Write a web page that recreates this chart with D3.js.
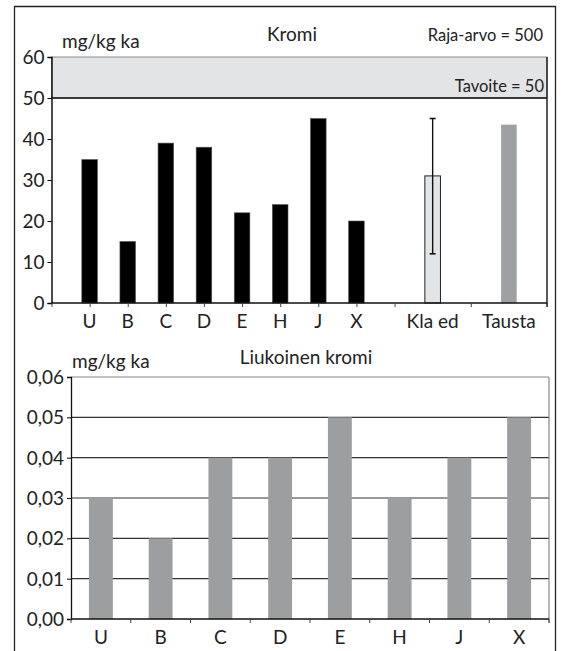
<!DOCTYPE html>
<html><head><meta charset="utf-8">
<script src="https://cdn.jsdelivr.net/npm/d3@7"></script>
<style>
body{margin:0;background:#fff;}
svg text{font-family:Lato,"Open Sans",sans-serif;fill:#222;}
</style></head>
<body><svg id="c" width="562" height="651"></svg>
<script>
// ---- data: top chart (Kromi)
const sites = ["U","B","C","D","E","H","J","X"];
const kromi = [35,15,39,38,22,24,45,20];
const extraCats = ["Kla ed","Tausta"];
const klaEd = 31, klaEdMin = 12, klaEdMax = 45;
const tausta = 43.5;
const topTicks = [0,10,20,30,40,50,60];
const tavoite = 50, topMax = 60;
// ---- data: bottom chart (Liukoinen kromi)
const liukoinen = [0.03,0.02,0.04,0.04,0.05,0.03,0.04,0.05];
const bottomTicks = [0,0.01,0.02,0.03,0.04,0.05,0.06];

const FS = 19, FT = 19, FS_SMALL = 16.5;
const svg = d3.select("#c");
// outer frame
svg.append("path").attr("d","M14.5,651 V6.5 H555.5 V651").attr("fill","none").attr("stroke","#222").attr("stroke-width",1.3);

// ===== top chart =====
const T = {l:51.5,r:547,t:57,b:303};
const slots = ["_0",...sites,"_9",extraCats[0],"_11",extraCats[1],"_13"];
const xT = d3.scalePoint().domain(slots).range([T.l,T.r]).padding(0);
const yT = d3.scaleLinear().domain([0,topMax]).range([T.b,T.t]);
const g1 = svg.append("g");
g1.append("rect").attr("x",T.l).attr("y",yT(topMax)).attr("width",T.r-T.l).attr("height",yT(tavoite)-yT(topMax)).attr("fill","#e3e4e6").attr("stroke","#8a8a8a").attr("stroke-width",1);
g1.append("line").attr("x1",T.l).attr("x2",T.r).attr("y1",yT(tavoite)).attr("y2",yT(tavoite)).attr("stroke","#111").attr("stroke-width",1.5);
g1.append("line").attr("x1",T.r).attr("x2",T.r).attr("y1",yT(topMax)).attr("y2",T.b+4).attr("stroke","#222").attr("stroke-width",1.5);
const bwT = 15.6;
g1.selectAll(".b").data(sites).enter().append("rect")
  .attr("x",d=>xT(d)-bwT/2).attr("width",bwT)
  .attr("y",(d,i)=>yT(kromi[i])).attr("height",(d,i)=>yT(0)-yT(kromi[i]))
  .attr("fill","#000").attr("stroke","#555").attr("stroke-width",0.6);
g1.append("rect").attr("x",xT(extraCats[0])-bwT/2).attr("width",bwT).attr("y",yT(klaEd)).attr("height",yT(0)-yT(klaEd))
  .attr("fill","#e3e4e6").attr("stroke","#222").attr("stroke-width",1);
g1.append("rect").attr("x",xT(extraCats[1])-bwT/2).attr("width",bwT).attr("y",yT(tausta)).attr("height",yT(0)-yT(tausta))
  .attr("fill","#9fa0a2");
const ex = xT(extraCats[0]);
g1.append("line").attr("x1",ex).attr("x2",ex).attr("y1",yT(klaEdMax)).attr("y2",yT(klaEdMin)).attr("stroke","#111").attr("stroke-width",1.4);
[klaEdMax,klaEdMin].forEach(v=>g1.append("line").attr("x1",ex-3).attr("x2",ex+3).attr("y1",yT(v)).attr("y2",yT(v)).attr("stroke","#111").attr("stroke-width",1.6));
const ay1 = g1.append("g").attr("transform",`translate(${T.l},0)`).call(d3.axisLeft(yT).tickValues(topTicks).tickSize(4).tickPadding(3).tickFormat(d3.format("d")));
ay1.select(".domain").attr("stroke","#111").attr("stroke-width",1.5);
ay1.selectAll("text").attr("font-size",FT).attr("dy","0.35em").attr("font-family","Lato");
const tickSlots = slots.filter(s=>!extraCats.includes(s));
const ax1 = g1.append("g").attr("transform",`translate(0,${T.b})`).call(d3.axisBottom(xT).tickValues(tickSlots).tickSize(4).tickFormat(""));
ax1.select(".domain").attr("stroke","#111").attr("stroke-width",1.5).attr("d",`M${T.l},0H${T.r}`);
ax1.selectAll(".tick line").attr("stroke","#444");
g1.selectAll(".xl").data([...sites,...extraCats]).enter().append("text")
  .attr("x",d=>xT(d)).attr("y",T.b+25).attr("text-anchor","middle").attr("font-size",FS).text(d=>d);
g1.append("text").attr("x",62).attr("y",48).attr("font-size",FS).text("mg/kg ka");
g1.append("text").attr("x",292).attr("y",41).attr("text-anchor","middle").attr("font-size",FS).text("Kromi");
g1.append("text").attr("x",543).attr("y",41).attr("text-anchor","end").attr("font-size",FS_SMALL).text("Raja-arvo = 500");
g1.append("text").attr("x",544).attr("y",92).attr("text-anchor","end").attr("font-size",FS_SMALL).text("Tavoite = 50");

// ===== bottom chart =====
const B = {l:71,r:549,t:377,b:619};
const xB = d3.scaleBand().domain(sites).range([B.l,B.r]).paddingInner(0.6).paddingOuter(0.3);
const yB = d3.scaleLinear().domain([0,0.06]).range([B.b,B.t]);
const g2 = svg.append("g");
g2.selectAll(".gl").data(bottomTicks.slice(1,-1)).enter().append("line")
  .attr("x1",B.l).attr("x2",B.r).attr("y1",d=>yB(d)).attr("y2",d=>yB(d)).attr("stroke","#333").attr("stroke-width",1.1);
g2.append("line").attr("x1",B.l).attr("x2",B.r).attr("y1",B.t).attr("y2",B.t).attr("stroke","#888").attr("stroke-width",1.2);
g2.append("line").attr("x1",B.r).attr("x2",B.r).attr("y1",B.t).attr("y2",B.b+4).attr("stroke","#888").attr("stroke-width",1.2);
g2.selectAll(".bb").data(sites).enter().append("rect")
  .attr("x",d=>xB(d)).attr("width",xB.bandwidth())
  .attr("y",(d,i)=>yB(liukoinen[i])).attr("height",(d,i)=>yB(0)-yB(liukoinen[i]))
  .attr("fill","#9d9ea0");
const ay2 = g2.append("g").attr("transform",`translate(${B.l},0)`).call(d3.axisLeft(yB).tickValues(bottomTicks).tickSize(4).tickPadding(3).tickFormat(d=>d3.format(".2f")(d).replace(".",",")));
ay2.select(".domain").attr("stroke","#111").attr("stroke-width",1.3);
ay2.selectAll("text").attr("font-size",FT).attr("dy","0.35em").attr("font-family","Lato");
const step = xB.step();
const bounds = d3.range(sites.length+1).map(i=>B.l+i*step);
const ax2 = g2.append("g");
ax2.append("line").attr("x1",B.l).attr("x2",B.r).attr("y1",B.b).attr("y2",B.b).attr("stroke","#111").attr("stroke-width",1.4);
ax2.selectAll(".tk").data(bounds).enter().append("line").attr("x1",d=>d).attr("x2",d=>d).attr("y1",B.b).attr("y2",B.b+4).attr("stroke","#444");
g2.selectAll(".xl2").data(sites).enter().append("text")
  .attr("x",d=>xB(d)+xB.bandwidth()/2).attr("y",B.b+25).attr("text-anchor","middle").attr("font-size",FS).text(d=>d);
g2.append("text").attr("x",72).attr("y",368).attr("font-size",FS).text("mg/kg ka");
g2.append("text").attr("x",306).attr("y",364).attr("text-anchor","middle").attr("font-size",FS).text("Liukoinen kromi");
</script></body></html>
